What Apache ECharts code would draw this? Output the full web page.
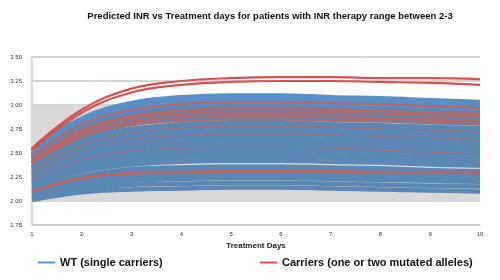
<!DOCTYPE html>
<html>
<head>
<meta charset="utf-8">
<script src="https://cdn.jsdelivr.net/npm/echarts@6/dist/echarts.min.js"></script>
<style>
  html, body { margin: 0; padding: 0; background: #fff; }
  #chart { width: 500px; height: 280px; }
</style>
</head>
<body>
<div id="chart"></div>
<script>
// treatment days on the x axis
const days = ['1', '2', '3', '4', '5', '6', '7', '8', '9', '10'];
const yTicks = [1.75, 2.0, 2.25, 2.5, 2.75, 3.0, 3.25, 3.5];
const therapyRange = [2.0, 3.0];

// WT (single carriers) - predicted INR per day, bottom to top
const wtCurves = [
  [2.01, 2.09, 2.12, 2.13, 2.14, 2.14, 2.13, 2.12, 2.11, 2.10],
  [2.03, 2.12, 2.17, 2.18, 2.19, 2.19, 2.18, 2.17, 2.16, 2.15],
  [2.06, 2.16, 2.21, 2.23, 2.24, 2.24, 2.23, 2.22, 2.21, 2.20],
  [2.08, 2.20, 2.25, 2.27, 2.28, 2.28, 2.27, 2.26, 2.25, 2.23],
  [2.10, 2.23, 2.29, 2.31, 2.32, 2.32, 2.31, 2.30, 2.29, 2.27],
  [2.13, 2.26, 2.33, 2.35, 2.36, 2.36, 2.35, 2.34, 2.32, 2.31],
  [2.16, 2.31, 2.38, 2.41, 2.42, 2.42, 2.41, 2.40, 2.38, 2.37],
  [2.18, 2.34, 2.42, 2.45, 2.46, 2.46, 2.45, 2.44, 2.42, 2.41],
  [2.20, 2.37, 2.46, 2.49, 2.50, 2.50, 2.49, 2.47, 2.46, 2.45],
  [2.22, 2.41, 2.49, 2.53, 2.54, 2.54, 2.53, 2.51, 2.50, 2.49],
  [2.25, 2.44, 2.53, 2.57, 2.58, 2.58, 2.57, 2.55, 2.54, 2.53],
  [2.27, 2.47, 2.57, 2.61, 2.62, 2.62, 2.61, 2.59, 2.58, 2.56],
  [2.29, 2.51, 2.61, 2.65, 2.66, 2.66, 2.65, 2.63, 2.62, 2.60],
  [2.31, 2.54, 2.64, 2.68, 2.70, 2.70, 2.69, 2.67, 2.66, 2.64],
  [2.33, 2.57, 2.68, 2.72, 2.74, 2.74, 2.73, 2.71, 2.70, 2.68],
  [2.35, 2.60, 2.72, 2.76, 2.78, 2.78, 2.77, 2.75, 2.74, 2.72],
  [2.38, 2.64, 2.75, 2.80, 2.82, 2.82, 2.80, 2.79, 2.77, 2.76],
  [2.40, 2.67, 2.80, 2.85, 2.87, 2.87, 2.85, 2.84, 2.82, 2.81],
  [2.43, 2.71, 2.84, 2.89, 2.91, 2.91, 2.89, 2.88, 2.86, 2.85],
  [2.45, 2.74, 2.88, 2.93, 2.95, 2.95, 2.93, 2.92, 2.90, 2.89],
  [2.47, 2.77, 2.91, 2.97, 2.99, 2.99, 2.97, 2.96, 2.94, 2.92],
  [2.49, 2.80, 2.95, 3.01, 3.03, 3.03, 3.01, 3.00, 2.98, 2.96],
  [2.51, 2.84, 2.99, 3.05, 3.07, 3.07, 3.05, 3.04, 3.02, 3.00],
  [2.53, 2.86, 3.02, 3.08, 3.10, 3.10, 3.08, 3.07, 3.05, 3.03]
];

// Carriers (one or two mutated alleles), top to bottom
const carrierCurves = [
  [2.55, 2.95, 3.17, 3.25, 3.28, 3.29, 3.29, 3.28, 3.28, 3.27],
  [2.53, 2.92, 3.13, 3.21, 3.24, 3.25, 3.25, 3.24, 3.23, 3.21],
  [2.47, 2.80, 2.95, 3.01, 3.03, 3.03, 3.02, 3.01, 2.99, 2.97],
  [2.42, 2.74, 2.88, 2.94, 2.96, 2.96, 2.95, 2.94, 2.92, 2.91],
  [2.41, 2.72, 2.86, 2.91, 2.93, 2.93, 2.92, 2.91, 2.89, 2.88],
  [2.40, 2.69, 2.82, 2.87, 2.89, 2.89, 2.88, 2.86, 2.85, 2.83],
  [2.39, 2.66, 2.79, 2.83, 2.85, 2.85, 2.84, 2.83, 2.82, 2.80],
  [2.33, 2.58, 2.71, 2.76, 2.78, 2.78, 2.77, 2.75, 2.74, 2.72],
  [2.28, 2.52, 2.64, 2.68, 2.70, 2.70, 2.69, 2.67, 2.66, 2.64],
  [2.22, 2.43, 2.52, 2.55, 2.56, 2.56, 2.55, 2.53, 2.51, 2.49],
  [2.10, 2.24, 2.29, 2.30, 2.31, 2.31, 2.31, 2.30, 2.30, 2.29]
];

const WT = 'WT (single carriers)';
const CARRIER = 'Carriers (one or two mutated alleles)';

// line width / colour for each carrier curve (same order as above)
const carrierStyle = [
  { w: 2.2, c: '#d5534e', o: 1 },
  { w: 2.2, c: '#d5534e', o: 1 },
  { w: 2, c: '#c9605b', o: 0.9 },
  { w: 2.5, c: '#c4635f', o: 0.9 },
  { w: 2, c: '#c4635f', o: 0.85 },
  { w: 2.5, c: '#c4635f', o: 0.9 },
  { w: 2, c: '#c4635f', o: 0.8 },
  { w: 1.2, c: '#c4625e', o: 0.6 },
  { w: 1.2, c: '#c4625e', o: 0.5 },
  { w: 1.2, c: '#c4625e', o: 0.5 },
  { w: 2.5, c: '#c8605b', o: 1 }
];

const font = 'Liberation Sans, Arial, sans-serif';

const series = [];
wtCurves.forEach((vals, i) => {
  const s = {
    name: WT,
    type: 'line',
    data: vals,
    smooth: 0.4,
    showSymbol: false,
    silent: true,
    lineStyle: { width: 4.5, color: i >= 21 ? '#5890c6' : '#5b88b2' },
    itemStyle: { color: '#4f92d3' }
  };
  if (i === 0) {
    s.markArea = {
      silent: true,
      itemStyle: { color: '#d9d9d9' },
      data: [[{ yAxis: therapyRange[0] }, { yAxis: therapyRange[1] }]]
    };
  }
  series.push(s);
});
carrierCurves.forEach((vals, i) => {
  const st = carrierStyle[i];
  series.push({
    name: CARRIER,
    type: 'line',
    data: vals,
    smooth: 0.4,
    showSymbol: false,
    silent: true,
    lineStyle: { width: st.w, color: st.c, opacity: st.o },
    itemStyle: { color: '#d9534f' }
  });
});

const chart = echarts.init(document.getElementById('chart'), null, { renderer: 'canvas' });
chart.setOption({
  animation: false,
  backgroundColor: '#fff',
  title: {
    text: 'Predicted INR vs Treatment days for patients with INR therapy range between 2-3',
    left: 265,
    textAlign: 'center',
    top: 6,
    textStyle: { fontFamily: font, fontSize: 9.5, fontWeight: 'bold', color: '#111' }
  },
  legend: [
    {
      data: [{ name: WT, itemStyle: { color: '#4f92d3' } }],
      left: 33, top: 252,
      icon: 'rect', itemWidth: 17, itemHeight: 2, itemGap: 5,
      textStyle: { fontFamily: font, fontSize: 11, fontWeight: 'bold', color: '#111' }
    },
    {
      data: [{ name: CARRIER, itemStyle: { color: '#d9534f' } }],
      left: 255, top: 252,
      icon: 'rect', itemWidth: 17, itemHeight: 2, itemGap: 5,
      textStyle: { fontFamily: font, fontSize: 11, fontWeight: 'bold', color: '#111' }
    }
  ],
  grid: { left: 32, right: 20, top: 57, bottom: 55, containLabel: false, outerBoundsMode: 'none' },
  xAxis: {
    type: 'category',
    data: days,
    boundaryGap: false,
    name: 'Treatment Days',
    nameLocation: 'middle',
    nameGap: 17,
    nameTextStyle: { fontFamily: font, fontSize: 8, fontWeight: 'bold', color: '#222' },
    axisLine: { lineStyle: { color: '#cfcfcf', width: 1.5 } },
    axisTick: { show: false },
    axisLabel: { fontFamily: font, fontSize: 6, color: '#333', margin: 6 },
    splitLine: { show: false }
  },
  yAxis: {
    type: 'value',
    min: yTicks[0],
    max: yTicks[yTicks.length - 1],
    interval: 0.25,
    name: 'Predicted INR',
    nameLocation: 'middle',
    nameGap: 25,
    nameTextStyle: { fontFamily: font, fontSize: 8.5, fontWeight: 'bold', color: '#111' },
    axisLine: { show: true, lineStyle: { color: '#cfcfcf', width: 1.5 } },
    axisTick: { show: false },
    axisLabel: {
      fontFamily: font, fontSize: 6, color: '#333', margin: 10,
      formatter: v => v.toFixed(2)
    },
    splitLine: { lineStyle: { color: '#c4c4c4', width: 1.5 } }
  },
  series: series
});
</script>
</body>
</html>
